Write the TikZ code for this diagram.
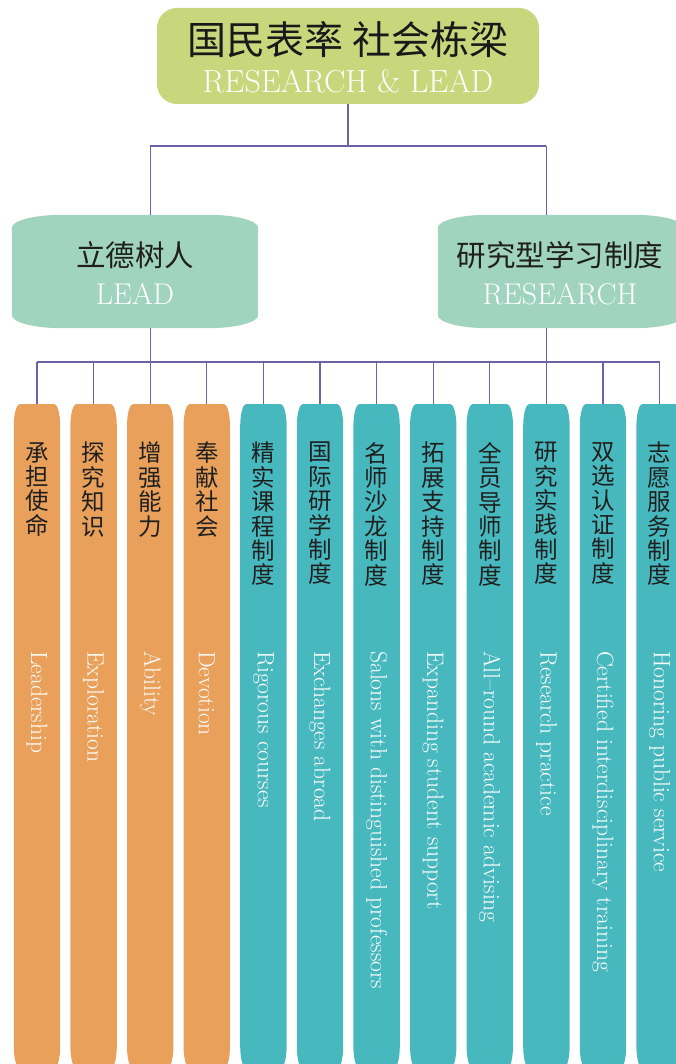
\documentclass[tikz,border=0pt]{standalone}
\usepackage{fontspec}
\newfontfamily\cjk{Noto Sans CJK SC}
\definecolor{topgreen}{HTML}{C8D67C}
\definecolor{midgreen}{HTML}{A1D4BF}
\definecolor{colorange}{HTML}{E8A05A}
\definecolor{colteal}{HTML}{47B8BE}
\definecolor{linkc}{HTML}{6B63A8}
\newcommand\softshape[4]{%
\fill[#2] ([yshift=-#4pt]#1.north west) .. controls ([yshift=-0.45*#4pt]#1.north west) and ([xshift=0.45*#3pt]#1.north west) .. ([xshift=#3pt]#1.north west) -- ([xshift=-#3pt]#1.north east) .. controls ([xshift=-0.45*#3pt]#1.north east) and ([yshift=-0.45*#4pt]#1.north east) .. ([yshift=-#4pt]#1.north east) -- ([yshift=#4pt]#1.south east) .. controls ([yshift=0.45*#4pt]#1.south east) and ([xshift=-0.45*#3pt]#1.south east) .. ([xshift=-#3pt]#1.south east) -- ([xshift=#3pt]#1.south west) .. controls ([xshift=0.45*#3pt]#1.south west) and ([yshift=0.45*#4pt]#1.south west) .. ([yshift=#4pt]#1.south west) -- cycle;}
\begin{document}
\begin{tikzpicture}[x=1pt,y=-1pt,
  colbox/.style={minimum width=46pt, minimum height=664pt, inner sep=0, anchor=north},
  midbox/.style={minimum width=246pt, minimum height=113pt, inner sep=0},
  cjkcol/.style={anchor=north, inner sep=0, align=center, text=black!88, font=\cjk\fontsize{23.5}{24.4}\selectfont},
  encol/.style={anchor=west, rotate=-90, inner sep=0, text=white, font=\fontsize{23.5}{24}\selectfont},
  cjkmid/.style={anchor=base, inner sep=0, text=black!88, font=\cjk\fontsize{29.5}{30}\selectfont},
  enmid/.style={anchor=base, inner sep=0, text=white, font=\fontsize{30}{31}\selectfont\addfontfeature{LetterSpace=5}},
  link/.style={draw=linkc, line width=1.3pt}]
\useasboundingbox (0,0) rectangle (676,1064);
\clip (0,0) rectangle (676,1064);
% top box
\node[fill=topgreen, rounded corners=20pt, minimum width=382pt, minimum height=96pt, inner sep=0] (top) at (348,56) {};
% second level
\node[midbox] (lead) at (135,271.5) {};
\node[midbox] (research) at (561,271.5) {};
\softshape{lead}{midgreen}{50}{13}
\softshape{research}{midgreen}{50}{13}
% columns
\foreach \i/\x/\col in {1/37/colorange,2/93.6/colorange,3/150.2/colorange,4/206.8/colorange,5/263.4/colteal,6/320/colteal,7/376.6/colteal,8/433.2/colteal,9/489.8/colteal,10/546.4/colteal,11/603/colteal,12/659.6/colteal}{
  \node[colbox] (c\i) at (\x,404) {};
  \softshape{c\i}{\col}{6}{22}
}
% connectors
\coordinate (tbus) at (0,146);
\coordinate (bus) at (0,362);
\draw[link] (top.south) -- (top.south |- tbus);
\draw[link] (c3 |- tbus) -- (c10 |- tbus);
\draw[link] (c3 |- tbus) -- (c3 |- lead.north);
\draw[link] (c10 |- tbus) -- (c10 |- research.north);
\draw[link] (c3 |- lead.south) -- (c3 |- bus);
\draw[link] (c10 |- research.south) -- (c10 |- bus);
\draw[link] (c1.north |- bus) -- (c12.north |- bus);
\foreach \i in {1,...,12}{\draw[link] (c\i.north) -- (c\i.north |- bus);}
% texts
\node[anchor=base, inner sep=0, text=black!90, font=\cjk\fontsize{39}{40}\selectfont] (topcn) at (348,55) {国民表率 社会栋梁};
\node[anchor=base, inner sep=0, text=white, font=\fontsize{32}{33}\selectfont\addfontfeature{LetterSpace=5}] (topen) at (348,93) {RESEARCH \& LEAD};
\node[cjkmid] (leadcn) at (135,266) {立德树人};
\node[enmid] (leaden) at (135,304) {LEAD};
\node[cjkmid] (researchcn) at (560,266) {研究型学习制度};
\node[enmid] (researchen) at (560,304) {RESEARCH};
\foreach \i/\cn/\en in {1/{承\\担\\使\\命}/Leadership,2/{探\\究\\知\\识}/Exploration,3/{增\\强\\能\\力}/Ability,4/{奉\\献\\社\\会}/Devotion,5/{精\\实\\课\\程\\制\\度}/Rigorous courses,6/{国\\际\\研\\学\\制\\度}/Exchanges abroad,7/{名\\师\\沙\\龙\\制\\度}/Salons with distinguished professors,8/{拓\\展\\支\\持\\制\\度}/Expanding student support,9/{全\\员\\导\\师\\制\\度}/All--round academic advising,10/{研\\究\\实\\践\\制\\度}/Research practice,11/{双\\选\\认\\证\\制\\度}/Certified interdisciplinary training,12/{志\\愿\\服\\务\\制\\度}/Honoring public service}{
  \node[cjkcol] (t\i) at ([yshift=-38pt]c\i.north) {\cn};
  \node[encol] (e\i) at ([yshift=-247pt]c\i.north) {\en};
}
\end{tikzpicture}
\end{document}
